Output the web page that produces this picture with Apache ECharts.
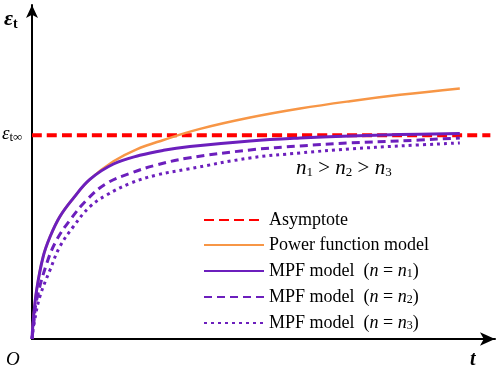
<!DOCTYPE html>
<html>
<head>
<meta charset="utf-8">
<script src="https://cdn.jsdelivr.net/npm/echarts@6/dist/echarts.min.js"></script>
<style>
  html, body { margin: 0; padding: 0; background: #fff; }
  #chart { width: 498px; height: 371px; }
</style>
</head>
<body>
<div id="chart"></div>
<script>
'use strict';

// values (t and strain in 0-100 units)
var asymT = [0, 99];
var asymV = [61, 61];

var powerT = [0, 0.28, 1.0, 2.4, 3.9, 6.0, 8.9, 12.5, 17.6, 22.6, 28.4, 36.3, 47.1, 57.9, 68.7, 79.5, 92.4];
var powerV = [0, 5.7, 14.7, 24.6, 30.6, 36.6, 42.1, 47.8, 53.2, 56.8, 59.6, 62.9, 66.3, 69.0, 71.2, 73.1, 75.0];

var mpf1T = [0, 0.28, 1.0, 2.4, 3.9, 6.0, 8.9, 12.5, 17.6, 23.3, 28.4, 34.1, 47.1, 57.9, 68.7, 79.5, 92.4];
var mpf1V = [0, 5.7, 14.7, 24.6, 30.6, 36.6, 42.1, 47.8, 52.4, 55.0, 56.5, 57.6, 59.3, 60.2, 60.8, 61.2, 61.5];

var mpf2T = [0, 0.4, 1.0, 3.2, 5.3, 8.2, 11.8, 16.1, 21.2, 26.9, 33.4, 47.1, 57.9, 68.7, 79.5, 92.4];
var mpf2V = [0, 5.0, 11.7, 22.7, 29.6, 35.6, 41.6, 46.6, 49.6, 52.1, 54.1, 56.6, 57.8, 58.7, 59.3, 60.2];

var mpf3T = [0, 0.5, 1.7, 3.9, 6.0, 8.9, 12.5, 16.1, 21.2, 26.9, 33.4, 47.1, 57.9, 68.7, 79.5, 92.4];
var mpf3V = [0, 5.0, 12.7, 20.7, 27.6, 33.6, 39.6, 43.1, 46.6, 49.1, 50.8, 54.2, 55.7, 56.9, 57.8, 58.7];

var seriesNames = ['Asymptote', 'Power function model', 'MPF n1', 'MPF n2', 'MPF n3'];

function pairs(xs, ys) {
  return xs.map(function (x, i) { return [x, ys[i]]; });
}

var purple = '#6c1fbd';
var serif = '"Liberation Serif", "Times New Roman", serif';

var myChart = echarts.init(document.getElementById('chart'));

function curve(name, xs, ys, color, lineType, width) {
  return {
    type: 'line',
    name: name,
    data: pairs(xs, ys),
    showSymbol: false,
    symbol: 'none',
    smooth: 0.4,
    silent: true,
    lineStyle: { color: color, type: lineType, width: width },
    itemStyle: { color: color }
  };
}

myChart.setOption({
  animation: false,
  backgroundColor: '#fff',
  grid: { left: 32, right: 3, top: 5, bottom: 32 },
  xAxis: {
    type: 'value', min: 0, max: 100,
    axisLine: { show: true, onZero: false, symbol: ['none', 'arrow'], symbolSize: [10, 15],
      lineStyle: { color: '#000', width: 2 } },
    axisTick: { show: false }, axisLabel: { show: false }, splitLine: { show: false }
  },
  yAxis: {
    type: 'value', min: 0, max: 100,
    axisLine: { show: true, onZero: false, symbol: ['none', 'arrow'], symbolSize: [9, 13],
      lineStyle: { color: '#000', width: 2 } },
    axisTick: { show: false }, axisLabel: { show: false }, splitLine: { show: false }
  },
  legend: {
    orient: 'vertical',
    left: 198, top: 206,
    itemWidth: 60, itemHeight: 14, itemGap: 7,
    itemStyle: { opacity: 0 },
    data: seriesNames,
    formatter: function (name) {
      if (name === 'MPF n1') return 'MPF model  ({i|n} = {i|n}{s|1})';
      if (name === 'MPF n2') return 'MPF model  ({i|n} = {i|n}{s|2})';
      if (name === 'MPF n3') return 'MPF model  ({i|n} = {i|n}{s|3})';
      return name;
    },
    textStyle: {
      fontFamily: serif, fontSize: 18, color: '#000', lineHeight: 18,
      rich: {
        i: { fontFamily: serif, fontSize: 18, fontStyle: 'italic', color: '#000', lineHeight: 18 },
        s: { fontFamily: serif, fontSize: 12, color: '#000', verticalAlign: 'bottom', padding: [7, 0, 0, 0], lineHeight: 18 }
      }
    }
  },
  series: [
    curve(seriesNames[0], asymT, asymV, '#ff0000', [10, 5], 4),
    curve(seriesNames[1], powerT, powerV, '#f79646', 'solid', 2.5),
    curve(seriesNames[2], mpf1T, mpf1V, purple, 'solid', 3),
    curve(seriesNames[3], mpf2T, mpf2V, purple, [8, 5], 3),
    curve(seriesNames[4], mpf3T, mpf3V, purple, [3, 4], 3)
  ],
  graphic: [
    {
      type: 'text', left: 4, top: 8,
      style: {
        text: '{e|ε}{t|t}',
        rich: {
          e: { fontFamily: serif, fontSize: 22, fontStyle: 'italic', fontWeight: 'bold', fill: '#000' },
          t: { fontFamily: serif, fontSize: 14, fontWeight: 'bold', fill: '#000', padding: [10, 0, 0, 0] }
        }
      }
    },
    {
      type: 'text', left: 2, top: 124,
      style: {
        text: '{e|ε}{t|t∞}',
        rich: {
          e: { fontFamily: serif, fontSize: 19, fontStyle: 'italic', fill: '#000' },
          t: { fontFamily: serif, fontSize: 13, fill: '#000', padding: [8, 0, 0, 0] }
        }
      }
    },
    {
      type: 'text', left: 6, top: 350,
      style: { text: 'O', fontFamily: serif, fontSize: 19, fontStyle: 'italic', fill: '#000' }
    },
    {
      type: 'text', left: 470, top: 350,
      style: { text: 't', fontFamily: serif, fontSize: 20, fontStyle: 'italic', fontWeight: 'bold', fill: '#000' }
    },
    {
      type: 'text', left: 296, top: 158,
      style: {
        text: '{i|n}{s|1} > {i|n}{s|2} > {i|n}{s|3}',
        rich: {
          i: { fontFamily: serif, fontSize: 21, fontStyle: 'italic', fill: '#000' },
          s: { fontFamily: serif, fontSize: 13, fill: '#000', padding: [9, 0, 0, 0] }
        },
        fontFamily: serif, fontSize: 21, fill: '#000'
      }
    }
  ]
});
</script>
</body>
</html>
